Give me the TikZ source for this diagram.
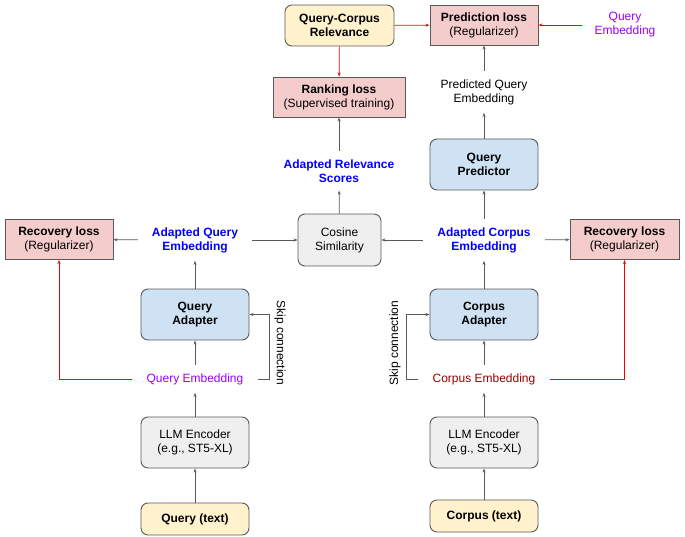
\documentclass[tikz,border=0pt]{standalone}
\usepackage{fontspec}
\setmainfont{Liberation Sans}
\usepackage{xcolor}
\usepackage{tikz}
\usetikzlibrary{arrows.meta, positioning}
\definecolor{lossred}{HTML}{F4CCCC}
\definecolor{inputyellow}{HTML}{FFF2CC}
\definecolor{adaptblue}{HTML}{CFE2F3}
\definecolor{encgray}{HTML}{EFEFEF}
\definecolor{embpurple}{HTML}{9900FF}
\definecolor{embdarkred}{HTML}{990000}
\definecolor{linegray}{HTML}{595959}

\begin{document}
\begin{tikzpicture}[
    x=1pt, y=-1pt,
    every node/.style={font=\fontsize{12}{14}\selectfont, align=center},
    box/.style={rectangle, draw=linegray, line width=0.9pt, minimum width=108pt, minimum height=51pt, inner sep=2pt},
    rbox/.style={box, rounded corners=7pt},
    lossbox/.style={box, fill=lossred, minimum height=40pt},
    lbl/.style={inner xsep=14pt, inner ysep=8pt},
    arrow/.style={-{Stealth[length=4pt, width=3pt]}, draw=linegray, line width=0.7pt},
    redarrow/.style={-{Stealth[length=4pt, width=3pt]}, draw=red, line width=0.7pt}
]
    \useasboundingbox (0,0) rectangle (685,537);

    % Inputs and encoders
    \node[rbox, fill=inputyellow, minimum height=32pt] (qtext) at (195,519) {\textbf{Query (text)}};
    \node[rbox, fill=inputyellow, minimum height=32pt] (ctext) at (484,516) {\textbf{Corpus (text)}};
    \node[rbox, fill=encgray] (qenc) at (195,442.5) {LLM Encoder\\(e.g., ST5-XL)};
    \node[rbox, fill=encgray] (cenc) at (484,442.5) {LLM Encoder\\(e.g., ST5-XL)};

    % Embeddings
    \node[lbl, text=embpurple] (qemb) at (195,379) {Query Embedding};
    \node[lbl, text=embdarkred] (cemb) at (484,379) {Corpus Embedding};

    % Adapters
    \node[rbox, fill=adaptblue] (qadapt) at (195,314.5) {\textbf{Query}\\\textbf{Adapter}};
    \node[rbox, fill=adaptblue] (cadapt) at (484,314.5) {\textbf{Corpus}\\\textbf{Adapter}};
    \node[rotate=-90] (qskip) at (280,343) {Skip connection};
    \node[rotate=90] (cskip) at (395,343) {Skip connection};

    % Adapted embeddings
    \node[lbl, text=blue] (qademb) at (195,240) {\textbf{Adapted Query}\\\textbf{Embedding}};
    \node[lbl, text=blue] (cademb) at (484,240) {\textbf{Adapted Corpus}\\\textbf{Embedding}};
    \node[rbox, fill=encgray, minimum width=83pt, minimum height=52pt] (cosine) at (339.5,240) {Cosine\\Similarity};
    \node[lossbox] (qrec) at (59,239.5) {\textbf{Recovery loss}\\(Regularizer)};
    \node[lossbox, minimum width=109pt] (crec) at (624.5,239.5) {\textbf{Recovery loss}\\(Regularizer)};

    % Top part
    \node[lbl, text=blue] (scores) at (339,171) {\textbf{Adapted Relevance}\\\textbf{Scores}};
    \node[rbox, fill=adaptblue] (predictor) at (484,164.5) {\textbf{Query}\\\textbf{Predictor}};
    \node[lbl] (predemb) at (484,92) {Predicted Query\\Embedding};
    \node[lossbox, minimum width=132pt] (rank) at (339,97) {\textbf{Ranking loss}\\(Supervised training)};
    \node[rbox, fill=inputyellow, minimum width=109pt, minimum height=41pt] (relev) at (339.5,25.5) {\textbf{Query-Corpus}\\\textbf{Relevance}};
    \node[lossbox] (predloss) at (484,25) {\textbf{Prediction loss}\\(Regularizer)};
    \node[lbl, text=embpurple, inner xsep=12pt] (qembtop) at (625,25) {Query\\Embedding};

    % Arrows
    \draw[arrow] (qtext) -- (qenc);
    \draw[arrow] (ctext) -- (cenc);
    \draw[arrow] (qenc) -- (qemb);
    \draw[arrow] (cenc) -- (cemb);
    \draw[arrow] (qemb) -- (qadapt);
    \draw[arrow] (cemb) -- (cadapt);
    \draw[arrow] (qemb.east) -| ([xshift=20pt]qadapt.east) -- (qadapt.east);
    \draw[arrow] (cemb.west) -| ([xshift=-23pt]cadapt.west) -- (cadapt.west);
    \draw[arrow] (qadapt) -- (qademb);
    \draw[arrow] (cadapt) -- (cademb);
    \draw[arrow] (qademb) -- (cosine);
    \draw[arrow] (cademb) -- (cosine);
    \draw[arrow] (qademb) -- (qrec);
    \draw[arrow] (cademb) -- (crec);
    \draw[arrow] (cademb) -- (predictor);
    \draw[arrow] (cosine) -- (scores);
    \draw[arrow] (scores) -- (rank);
    \draw[arrow] (predictor) -- (predemb);
    \draw[arrow] (predemb) -- (predloss);
    \draw[redarrow] (qemb.west) -| (qrec.south);
    \draw[redarrow] (cemb.east) -| (crec.south);
    \draw[redarrow] (relev) -- (rank);
    \draw[redarrow] (relev) -- (predloss);
    \draw[redarrow] (qembtop) -- (predloss);
\end{tikzpicture}
\end{document}
